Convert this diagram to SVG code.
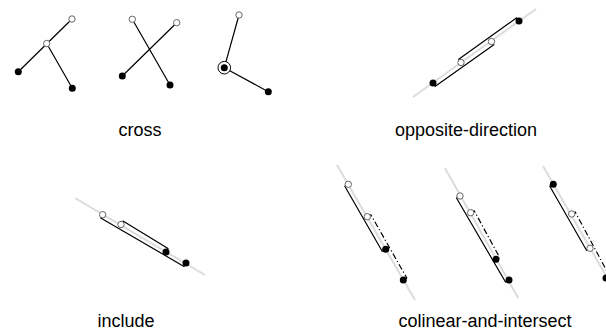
<svg xmlns="http://www.w3.org/2000/svg" width="606" height="333" viewBox="0 0 606 333">
<style>
.seg{fill:none;stroke:#000;stroke-width:1.2;stroke-linejoin:round}
.dd{stroke-dasharray:6 2.5 1.2 2.5}
.ref{fill:none;stroke:#dcdcdc;stroke-width:2}
.o{fill:#fff;stroke:#666;stroke-width:1}
.f{fill:#000}
.lbl{font-family:"Liberation Sans",Arial,sans-serif;font-size:18px;fill:#000;text-anchor:middle}
</style>
<rect width="606" height="333" fill="#fff"/>
<g id="cross">
  <g id="cross-1">
    <path class="seg" d="M18.3,71.7 L72,19 M46.7,43.5 L72.3,88.3"/>
    <circle class="o" cx="72" cy="19" r="3.2"/>
    <circle class="o" cx="46.7" cy="43.5" r="3.2"/>
    <circle class="f" cx="18.3" cy="71.7" r="3.5"/>
    <circle class="f" cx="72.3" cy="88.3" r="3.5"/>
  </g>
  <g id="cross-2">
    <path class="seg" d="M132.3,19.3 L170,85 M176.7,22.7 L122.3,76"/>
    <circle class="o" cx="132.3" cy="19.3" r="3.2"/>
    <circle class="o" cx="176.7" cy="22.7" r="3.2"/>
    <circle class="f" cx="122.3" cy="76" r="3.5"/>
    <circle class="f" cx="170" cy="85" r="3.5"/>
  </g>
  <g id="cross-3">
    <path class="seg" d="M239,15 L224.3,67.7 L268.3,91.7"/>
    <circle class="o" cx="239" cy="15" r="3.2"/>
    <circle cx="224.3" cy="67.7" r="6.3" fill="#fff" stroke="#000" stroke-width="1"/>
    <circle class="f" cx="224.3" cy="67.7" r="3.5"/>
    <circle class="f" cx="268.3" cy="91.7" r="3.5"/>
  </g>
  <text class="lbl" x="140" y="136">cross</text>
</g>
<g id="opposite-direction">
  <line class="ref" x1="413" y1="97" x2="536" y2="9"/>
  <path class="seg" d="M433,83 L435.3,86.3 L493.8,44.7 L491.5,41.5"/>
  <path class="seg" d="M461,62.5 L458.7,59.3 L516.7,17.8 L519,21"/>
  <circle class="o" cx="461" cy="62.5" r="3.2"/>
  <circle class="o" cx="491.5" cy="41.5" r="3.2"/>
  <circle class="f" cx="433" cy="83" r="3.5"/>
  <circle class="f" cx="519" cy="21" r="3.5"/>
  <text class="lbl" x="466" y="136">opposite-direction</text>
</g>
<g id="include">
  <line class="ref" x1="75" y1="198" x2="205" y2="275"/>
  <path class="seg" d="M102.7,214.7 L100.7,218.1 L184,266.4 L186,263"/>
  <path class="seg" d="M121,224.5 L123,221.1 L168,248.6 L166,252"/>
  <circle class="o" cx="102.7" cy="214.7" r="3.2"/>
  <circle class="o" cx="121" cy="224.5" r="3.2"/>
  <circle class="f" cx="166" cy="252" r="3.5"/>
  <circle class="f" cx="186" cy="263" r="3.5"/>
  <text class="lbl" x="126" y="327">include</text>
</g>
<g id="colinear-and-intersect">
  <g id="ci-1">
    <line class="ref" x1="337" y1="165" x2="415" y2="300"/>
    <path class="seg" d="M348.3,184.3 L344.8,186.3 L382.2,251.3 L385.7,249.3"/>
    <path class="seg dd" d="M367.3,216.7 L370.8,214.7 L406.8,278 L403.3,280"/>
    <circle class="o" cx="348.3" cy="184.3" r="3.2"/>
    <circle class="o" cx="367.3" cy="216.7" r="3.2"/>
    <circle class="f" cx="385.7" cy="249.3" r="3.5"/>
    <circle class="f" cx="403.3" cy="280" r="3.5"/>
  </g>
  <g id="ci-2">
    <line class="ref" x1="445" y1="168.3" x2="518.3" y2="298.3"/>
    <path class="seg" d="M460,196 L456.5,198 L505.5,282 L509,280"/>
    <path class="seg dd" d="M470.7,212.7 L474.2,210.7 L499.5,257.3 L496,259.3"/>
    <circle class="o" cx="460" cy="196" r="3.2"/>
    <circle class="o" cx="470.7" cy="212.7" r="3.2"/>
    <circle class="f" cx="496" cy="259.3" r="3.5"/>
    <circle class="f" cx="509" cy="280" r="3.5"/>
  </g>
  <g id="ci-3">
    <line class="ref" x1="543" y1="166" x2="620" y2="300"/>
    <path class="seg" d="M553.3,184.3 L549.8,186.3 L586.5,250.3 L590,248.3"/>
    <path class="seg dd" d="M571.7,214 L575.2,212 L609.5,276 L606,278"/>
    <circle class="o" cx="571.7" cy="214" r="3.2"/>
    <circle class="o" cx="590" cy="248.3" r="3.2"/>
    <circle class="f" cx="553.3" cy="184.3" r="3.5"/>
    <circle class="f" cx="606" cy="278" r="3.5"/>
  </g>
  <text class="lbl" x="485" y="327">colinear-and-intersect</text>
</g>
</svg>
